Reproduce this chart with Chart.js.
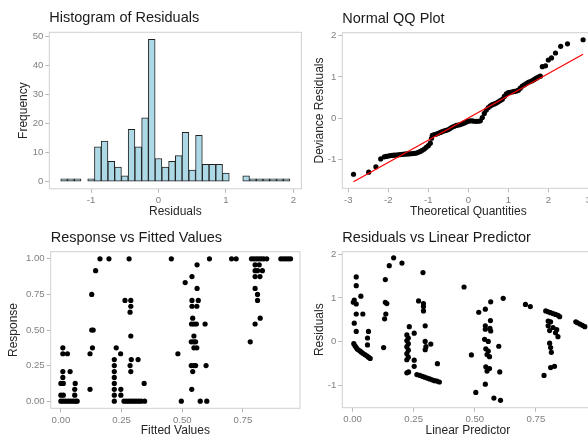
<!DOCTYPE html>
<html>
<head>
<meta charset="utf-8">
<script src="https://cdn.jsdelivr.net/npm/chart.js@4.4.1/dist/chart.umd.min.js"></script>
<style>
  html, body { margin: 0; padding: 0; background: #fff; overflow: hidden; width: 588px; height: 441px; }
  canvas { position: absolute; left: 0; top: 0; }
</style>
</head>
<body>
<canvas id="hist" width="600" height="441"></canvas>
<canvas id="qq" width="600" height="441"></canvas>
<canvas id="resp" width="600" height="441"></canvas>
<canvas id="resid" width="600" height="441"></canvas>
<script>
// histogram of residuals (bin mids, width 0.1)
const histMids = [-1.4, -1.3, -1.2, -1.1, -1.0, -0.9, -0.8, -0.7, -0.6, -0.5, -0.4, -0.3, -0.2, -0.1, 0.0, 0.1, 0.2,
                  0.3, 0.4, 0.5, 0.6, 0.7, 0.8, 0.9, 1.0, 1.1, 1.2, 1.3, 1.4, 1.5, 1.6, 1.7, 1.8, 1.9];
const histCounts = [1, 1, 1, 0, 1, 12, 14, 7, 5, 2, 18, 12, 22, 49, 8, 5, 7,
                    9, 17, 4, 16, 6, 6, 6, 3, 0, 0, 2, 1, 1, 1, 1, 1, 1];
const histTicksX = [-1, 0, 1, 2];
const histTicksY = [0, 10, 20, 30, 40, 50];

// normal QQ plot
const qqX = [-2.87, -2.49, -2.31, -2.19, -2.10, -2.05, -2.00, -1.95, -1.90, -1.85, -1.80, -1.75, -1.70, -1.65, -1.60,
             -1.55, -1.50, -1.45, -1.40, -1.35, -1.30, -1.25, -1.20, -1.15, -1.10, -1.05, -1.00, -0.95, -0.92, -0.90,
             -0.85, -0.80, -0.75, -0.70, -0.65, -0.60, -0.55, -0.50, -0.45, -0.40, -0.35, -0.30, -0.25, -0.20, -0.15,
             -0.10, -0.05, 0.00, 0.05, 0.10, 0.15, 0.20, 0.25, 0.30, 0.35, 0.40, 0.45, 0.50, 0.55, 0.60,
             0.65, 0.70, 0.75, 0.80, 0.85, 0.90, 0.95, 1.00, 1.05, 1.10, 1.15, 1.20, 1.25, 1.30, 1.35,
             1.40, 1.45, 1.50, 1.55, 1.60, 1.65, 1.70, 1.75, 1.80, 1.85, 1.93, 2.00, 2.08, 2.18, 2.31, 2.48, 2.87];
const qqY = [-1.35, -1.30, -1.17, -0.98, -0.93, -0.92, -0.91, -0.90, -0.895, -0.89, -0.885, -0.88, -0.875, -0.87, -0.865,
             -0.86, -0.86, -0.855, -0.85, -0.845, -0.84, -0.82, -0.80, -0.77, -0.74, -0.70, -0.66, -0.60, -0.48, -0.41,
             -0.39, -0.38, -0.36, -0.34, -0.32, -0.30, -0.29, -0.27, -0.24, -0.21, -0.19, -0.17, -0.16, -0.15, -0.13,
             -0.11, -0.09, -0.07, -0.06, -0.06, -0.07, -0.07, -0.07, -0.06, 0.02, 0.12, 0.20, 0.26, 0.30, 0.33,
             0.35, 0.37, 0.40, 0.43, 0.46, 0.53, 0.59, 0.62, 0.63, 0.64, 0.65, 0.66, 0.68, 0.73, 0.78,
             0.81, 0.84, 0.87, 0.89, 0.91, 0.94, 0.97, 1.00, 1.02, 1.25, 1.27, 1.41, 1.46, 1.58, 1.74, 1.80, 1.90];
const qqLineX = [-2.87, 2.87];
const qqLineY = [-1.53, 1.55];
const qqTicksX = [-3, -2, -1, 0, 1, 2, 3];
const qqTicksY = [-1, 0, 1, 2];

// response vs fitted values
const respX = [0.161, 0.198, 0.281, 0.455, 0.612, 0.703, 0.722, 0.785, 0.795, 0.805, 0.815, 0.825, 0.835, 0.848, 0.906, 0.916, 0.926, 0.936, 0.946,
               0.561, 0.80, 0.817,
               0.143, 0.80, 0.81, 0.83,
               0.54, 0.80, 0.82,
               0.512,
               0.561, 0.80,
               0.127, 0.81,
               0.264, 0.288, 0.54, 0.566, 0.81,
               0.288, 0.54, 0.56,
               0.285,
               0.543, 0.821,
               0.538, 0.548, 0.558, 0.594, 0.80,
               0.127, 0.133,
               0.288, 0.548,
               0.537, 0.547, 0.555, 0.78,
               0.008, 0.13, 0.228, 0.548, 0.56,
               0.008, 0.027, 0.12, 0.246, 0.482,
               0.22, 0.29, 0.318,
               0.22, 0.285, 0.537, 0.548, 0.555, 0.598,
               0.008, 0.038, 0.22, 0.288, 0.543,
               0.008, 0.22,
               0.0, 0.01, 0.059, 0.22, 0.343,
               0.057, 0.12, 0.22, 0.247, 0.539,
               0.0, 0.01, 0.057, 0.22, 0.247,
               0.0, 0.01, 0.02, 0.03, 0.04, 0.05, 0.06, 0.067, 0.22, 0.26, 0.27, 0.28, 0.29, 0.30, 0.31, 0.32, 0.33, 0.345, 0.496, 0.574, 0.601];
const respY = [1, 1, 1, 1, 1, 1, 1, 1, 1, 1, 1, 1, 1, 1, 1, 1, 1, 1, 1,
               0.958, 0.958, 0.958,
               0.917, 0.917, 0.917, 0.917,
               0.875, 0.875, 0.875,
               0.833,
               0.792, 0.792,
               0.75, 0.75,
               0.708, 0.708, 0.708, 0.708, 0.708,
               0.667, 0.667, 0.667,
               0.625,
               0.583, 0.583,
               0.542, 0.542, 0.542, 0.542, 0.542,
               0.5, 0.5,
               0.458, 0.458,
               0.417, 0.417, 0.417, 0.417,
               0.375, 0.375, 0.375, 0.375, 0.375,
               0.333, 0.333, 0.333, 0.333, 0.333,
               0.292, 0.292, 0.292,
               0.25, 0.25, 0.25, 0.25, 0.25, 0.25,
               0.208, 0.208, 0.208, 0.208, 0.208,
               0.167, 0.167,
               0.125, 0.125, 0.125, 0.125, 0.125,
               0.083, 0.083, 0.083, 0.083, 0.083,
               0.042, 0.042, 0.042, 0.042, 0.042,
               0, 0, 0, 0, 0, 0, 0, 0, 0, 0, 0, 0, 0, 0, 0, 0, 0, 0, 0, 0, 0];
const respTicksX = [0, 0.25, 0.5, 0.75];
const respTicksY = [0, 0.25, 0.5, 0.75, 1];

// residuals vs linear predictor
const lpX = [0.015, 0.015, 0.034, 0.007, 0.003, 0.015, 0.015, 0.042, 0.007, 0.015, 0.065, 0.061, 0.061,
             0.005, 0.010, 0.015, 0.020, 0.028, 0.035, 0.042, 0.050, 0.058, 0.065, 0.072,
             0.134, 0.134, 0.140, 0.136, 0.131, 0.127,
             0.168, 0.150, 0.202, 0.288, 0.456,
             0.232, 0.252, 0.222, 0.228, 0.222, 0.228, 0.222, 0.228, 0.222, 0.228, 0.222, 0.229, 0.222, 0.252, 0.252,
             0.270, 0.290, 0.290, 0.290, 0.297, 0.297, 0.320, 0.300, 0.297, 0.347,
             0.263, 0.275, 0.285, 0.295, 0.305, 0.315, 0.325, 0.335, 0.345, 0.355,
             0.616, 0.565, 0.543, 0.516, 0.564, 0.486, 0.598, 0.602, 0.543, 0.504, 0.578, 0.605,
             0.543, 0.543, 0.562, 0.565, 0.540, 0.555, 0.545, 0.555, 0.550, 0.560, 0.545, 0.560, 0.550,
             0.707, 0.727,
             0.790, 0.800, 0.810, 0.820, 0.830, 0.840, 0.847,
             0.800, 0.810, 0.800, 0.820, 0.806, 0.835, 0.830, 0.840,
             0.806, 0.810, 0.813, 0.810, 0.826, 0.783,
             0.913, 0.920, 0.930, 0.940, 0.950];
const residY = [1.48, 1.28, 1.04, 0.95, 0.90, 0.86, 0.63, 0.63, 0.42, 0.23, 0.23, 0.08, -0.08,
                -0.05, -0.10, -0.14, -0.18, -0.21, -0.24, -0.27, -0.30, -0.33, -0.36, -0.39,
                1.42, 0.90, 0.87, 0.63, 0.52, -0.14,
                1.92, 1.74, 1.80, 1.58, 1.25,
                0.34, 0.19, 0.15, 0.08, 0.02, -0.05, -0.12, -0.20, -0.28, -0.36, -0.42, -0.70, -0.72, -0.43, -0.57,
                0.93, 0.87, 0.80, 0.70, 0.36, 0.00, -0.06, -0.12, -0.19, -0.51,
                -0.76, -0.78, -0.80, -0.82, -0.84, -0.86, -0.88, -0.90, -0.91, -0.93,
                0.99, 0.91, 0.74, 0.67, 0.48, -0.31, -0.11, -0.70, -0.98, -1.17, -1.30, -1.35,
                0.36, 0.28, 0.30, 0.24, 0.05, 0.00, -0.17, -0.22, -0.30, -0.35, -0.58, -0.62, -0.68,
                0.85, 0.80,
                0.70, 0.68, 0.66, 0.64, 0.62, 0.60, 0.57,
                0.47, 0.45, 0.36, 0.32, 0.25, 0.27, 0.20, 0.11,
                -0.04, -0.14, -0.25, -0.60, -0.57, -0.78,
                0.45, 0.43, 0.40, 0.37, 0.34];
const residTicksX = [0, 0.25, 0.5, 0.75];
const residTicksY = [-1, 0, 1, 2];

const FONT = '"Liberation Sans", Arial, sans-serif';
const pts = (xs, ys) => xs.map((x, i) => ({ x, y: ys[i] }));

// light grey box around each panel
const frame = {
  id: 'frame',
  afterDraw(chart) {
    const { ctx, chartArea: a } = chart;
    ctx.save();
    ctx.strokeStyle = '#d0d0d0';
    ctx.lineWidth = 1;
    ctx.strokeRect(a.left, a.top, a.right - a.left, a.bottom - a.top);
    ctx.restore();
  }
};

function axis(o) {
  return {
    type: 'linear',
    min: o.min,
    max: o.max,
    offset: false,
    afterBuildTicks: s => { s.ticks = o.ticks.map(v => ({ value: v })); },
    afterFit: s => { if (o.w) s.width = o.w; if (o.h) s.height = o.h; },
    ticks: {
      color: '#808080',
      font: { family: FONT, size: 9.6 },
      padding: 2,
      maxRotation: 0,
      autoSkip: false,
      callback: v => o.dec ? v.toFixed(o.dec) : String(v)
    },
    grid: { drawOnChartArea: false, drawTicks: true, tickLength: 4, color: '#b8b8b8', offset: false },
    border: { display: false },
    title: { display: true, text: o.title, color: '#262626', font: { family: FONT, size: 12 }, padding: 0 }
  };
}

function base(title, pad, x, y) {
  return {
    responsive: false,
    animation: false,
    events: [],
    layout: { padding: pad, autoPadding: false },
    plugins: {
      legend: { display: false },
      tooltip: { enabled: false },
      title: {
        display: true, text: title, align: 'start', fullSize: false,
        color: '#1a1a1a', font: { family: FONT, size: 14.5, weight: 'normal' },
        padding: { top: 0, bottom: 5.2 }
      }
    },
    scales: { x, y }
  };
}

const dotStyle = { pointRadius: 2.6, pointBackgroundColor: '#000', pointBorderWidth: 0, showLine: false };

new Chart(document.getElementById('hist'), {
  type: 'bar',
  data: {
    datasets: [{
      data: pts(histMids, histCounts),
      backgroundColor: '#add8e6',
      borderColor: '#222',
      borderWidth: 1,
      borderSkipped: false,
      barPercentage: 1,
      categoryPercentage: 1
    }]
  },
  options: base('Histogram of Residuals', { left: 16.3, right: 298.6, top: 9.7, bottom: 222.3 },
    axis({ min: -1.62, max: 2.12, ticks: histTicksX, title: 'Residuals', h: 29.9 }),
    axis({ min: -2.45, max: 51.45, ticks: histTicksY, title: 'Frequency', w: 33 })),
  plugins: [frame]
});

new Chart(document.getElementById('qq'), {
  type: 'scatter',
  data: {
    datasets: [
      { data: pts(qqLineX, qqLineY), showLine: true, borderColor: '#ff0000', borderWidth: 1.2, pointRadius: 0 },
      Object.assign({ data: pts(qqX, qqY) }, dotStyle)
    ]
  },
  options: base('Normal QQ Plot', { left: 312.1, right: 5.7, top: 10.1, bottom: 222.3 },
    axis({ min: -3.15, max: 3.15, ticks: qqTicksX, title: 'Theoretical Quantities', h: 30.4 }),
    axis({ min: -1.69, max: 2.07, ticks: qqTicksY, title: 'Deviance Residuals', w: 30.2 })),
  plugins: [frame]
});

new Chart(document.getElementById('resp'), {
  type: 'scatter',
  data: { datasets: [Object.assign({ data: pts(respX, respY) }, dotStyle)] },
  options: base('Response vs Fitted Values', { left: 6.1, right: 300, top: 229.1, bottom: 2.8 },
    axis({ min: -0.042, max: 0.985, ticks: respTicksX, title: 'Fitted Values', dec: 2, h: 29.9 }),
    axis({ min: -0.05, max: 1.05, ticks: respTicksY, title: 'Response', dec: 2, w: 44.6 })),
  plugins: [frame]
});

new Chart(document.getElementById('resid'), {
  type: 'scatter',
  data: { datasets: [Object.assign({ data: pts(lpX, residY) }, dotStyle)] },
  options: base('Residuals vs Linear Predictor', { left: 312.1, right: 6.6, top: 229.1, bottom: 2.8 },
    axis({ min: -0.042, max: 0.985, ticks: residTicksX, title: 'Linear Predictor', dec: 2, h: 30.5 }),
    axis({ min: -1.52, max: 2.06, ticks: residTicksY, title: 'Residuals', w: 30.2 })),
  plugins: [frame]
});
</script>
</body>
</html>
